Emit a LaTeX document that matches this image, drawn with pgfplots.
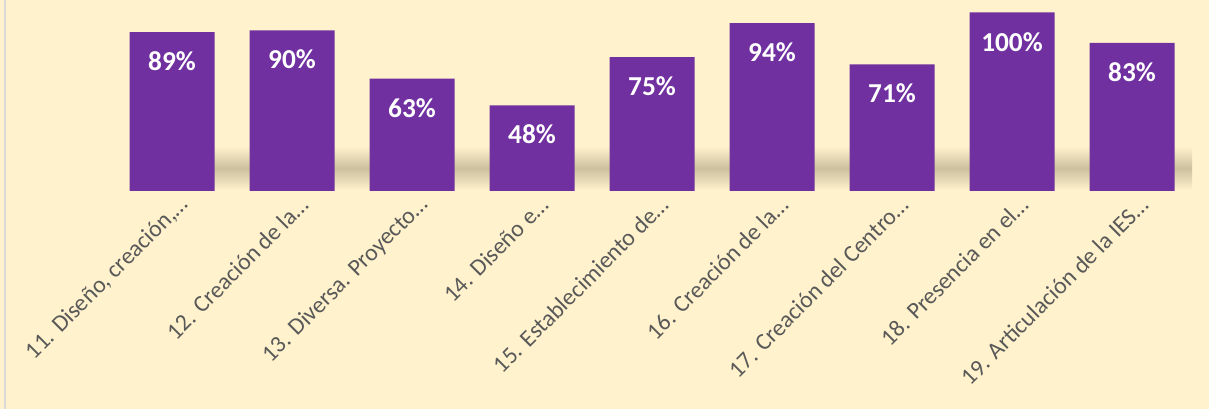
\documentclass[border=0pt]{standalone}
\usepackage{pgfplots}
\pgfplotsset{compat=1.18}
\usepackage{fontspec}
\setmainfont{Carlito}
\definecolor{bg}{RGB}{255,242,204}
\definecolor{barc}{RGB}{112,48,160}
\definecolor{lbl}{RGB}{89,89,89}
\definecolor{shad}{RGB}{204,192,158}
\definecolor{edge}{RGB}{217,217,217}
\begin{document}
\begin{tikzpicture}[x=1pt,y=1pt]
\fill[bg] (0,0) rectangle (906.75,306.75);
\path[use as bounding box] (0,0) rectangle (906.75,306.75);
\draw[line width=1.5pt, edge] (3.9,0) -- (3.9,306.75);
\begin{axis}[
  at={(84pt,163.5pt)}, anchor=south west,
  scale only axis, width=810pt, height=133.875pt,
  xmin=-0.5, xmax=8.5, ymin=0, ymax=100,
  hide y axis,
  axis x line*=bottom,
  x axis line style={draw=none},
  xtick=data,
  xticklabels={{11. Diseño, creación,…},{12. Creación de la…},{13. Diversa. Proyecto…},{14. Diseño e…},{15. Establecimiento de…},{16. Creación de la…},{17. Creación del Centro…},{18. Presencia en el…},{19. Articulación de la IES…}},
  major tick length=0pt,
  xticklabel style={font=\fontsize{17.8}{20}\selectfont, text=lbl, inner sep=0pt, xshift=9.5pt, yshift=-7.5pt, rotate=45, anchor=east},
  ybar, bar width=63.75pt,
  nodes near coords={\pgfmathprintnumber[assume math mode=true]{\pgfplotspointmeta}\%},
  every node near coord/.append style={font=\bfseries\fontsize{20.5}{22}\selectfont, text=white, anchor=center, yshift=-22pt},
  clip=false,
]
\shade[top color=bg, bottom color=bg, middle color=shad] (axis cs:0.3,0.5) rectangle (axis cs:8.5,25);
\addplot[fill=barc, draw=none] coordinates {(0,89) (1,90) (2,63) (3,48) (4,75) (5,94) (6,71) (7,100) (8,83)};
\end{axis}
\end{tikzpicture}
\end{document}
